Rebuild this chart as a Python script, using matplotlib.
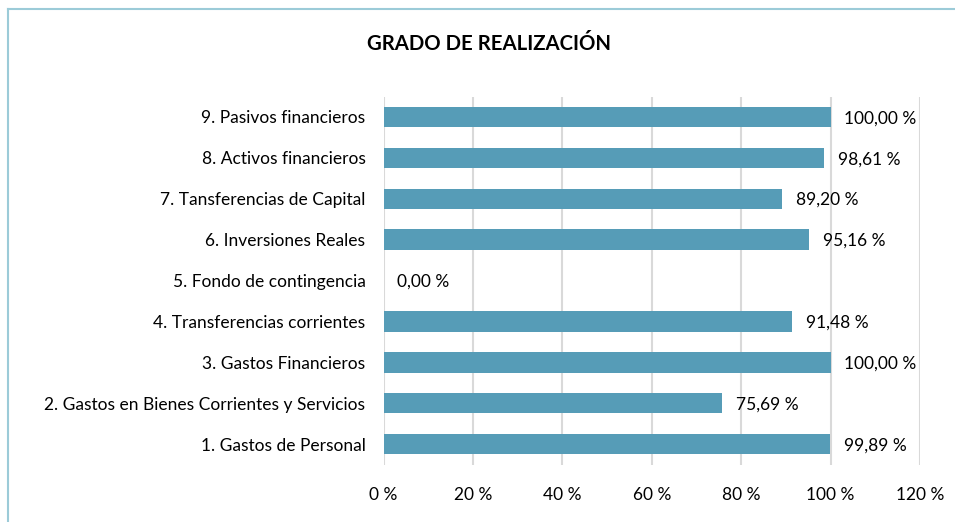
import matplotlib
matplotlib.use("Agg")
import matplotlib.pyplot as plt
from matplotlib.lines import Line2D

plt.rcParams['font.family'] = ['Lato', 'DejaVu Sans']

categories = [
    "1. Gastos de Personal",
    "2. Gastos en Bienes Corrientes y Servicios",
    "3. Gastos Financieros",
    "4. Transferencias corrientes",
    "5. Fondo de contingencia",
    "6. Inversiones Reales",
    "7. Tansferencias de Capital",
    "8. Activos financieros",
    "9. Pasivos financieros",
]
values = [99.89, 75.69, 100.00, 91.48, 0.00, 95.16, 89.20, 98.61, 100.00]
xticks = [0, 20, 40, 60, 80, 100, 120]
title = "GRADO DE REALIZACIÓN"

fig = plt.figure(figsize=(9.55, 5.22), dpi=100)
ax = fig.add_axes([383.5 / 955, 57.5 / 522, (920 - 383.5) / 955, 368 / 522])

ypos = list(range(len(categories)))
ax.barh(ypos, values, height=0.5, color='#569CB7', zorder=3)
ax.set_xlim(0, 120)
ax.set_ylim(-0.5, len(categories) - 0.5)
ax.set_yticks(ypos)
ax.set_yticklabels(categories, fontsize=12.5, color='#000000')
ax.set_xticks(xticks)
ax.set_xticklabels([f"{t} %" for t in xticks], fontsize=12.5, color='#000000')
ax.tick_params(axis='y', length=0, pad=13)
ax.tick_params(axis='x', length=0, pad=16)
ax.grid(axis='x', color='#D9D9D9', linewidth=1.5, zorder=0)
for s in ax.spines.values():
    s.set_visible(False)

for y, v in zip(ypos, values):
    label = f"{v:.2f}".replace('.', ',') + " %"
    ax.annotate(label, (v, y), xytext=(10, -1), textcoords='offset points',
                ha='left', va='center', fontsize=12.5, color='#000000')

fig.text(489 / 955, 1 - 43.5 / 522, title, ha='center', va='center',
         fontsize=14.7, fontweight='bold', color='#000000')

# chart frame (top and left edges)
fig.add_artist(Line2D([7.5 / 955, 1.0], [1 - 8.5 / 522, 1 - 8.5 / 522],
                      transform=fig.transFigure, color='#9CCBD8', linewidth=1.5))
fig.add_artist(Line2D([7.5 / 955, 7.5 / 955], [0.0, 1 - 8.5 / 522],
                      transform=fig.transFigure, color='#9CCBD8', linewidth=1.5))

fig.savefig("out.png", dpi=100)
